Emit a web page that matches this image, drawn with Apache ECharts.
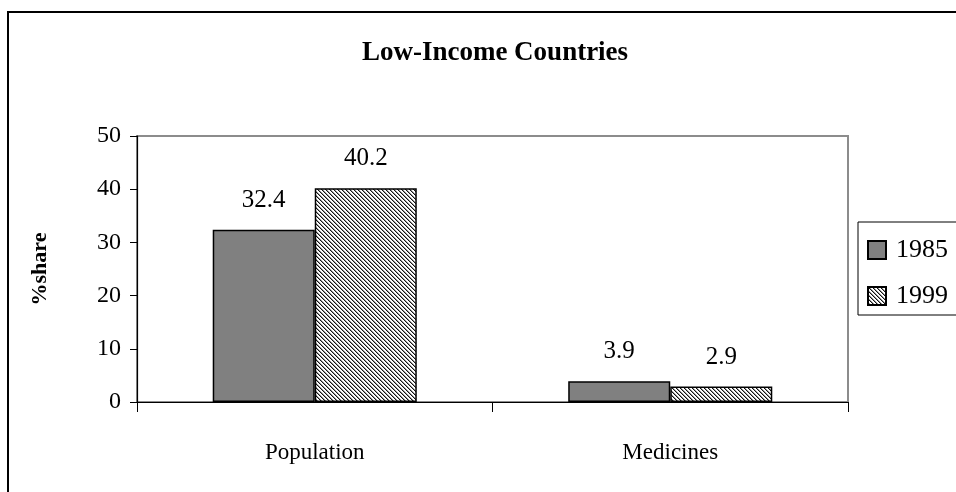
<!DOCTYPE html>
<html>
<head>
<meta charset="utf-8">
<script src="https://cdn.jsdelivr.net/npm/echarts@6/dist/echarts.min.js"></script>
<style>
html,body{margin:0;padding:0;background:#fff;}
#chart{width:956px;height:492px;}
</style>
</head>
<body>
<div id="chart"></div>
<script>
var categories = ['Population', 'Medicines'];
var seriesNames = ['1985', '1999'];
var values1985 = [32.4, 3.9];
var values1999 = [40.2, 2.9];
var titleText = 'Low-Income Countries';
var yAxisName = '%share';

// hatch pattern tile (diagonal "\" lines)
function makeHatch() {
  var size = 8;
  var c = document.createElement('canvas');
  c.width = size; c.height = size;
  var ctx = c.getContext('2d');
  var img = ctx.createImageData(size, size);
  for (var y = 0; y < size; y++) {
    for (var x = 0; x < size; x++) {
      var m = ((x - y) % 4 + 4) % 4;
      var v = (m === 0) ? 20 : (m === 1 ? 150 : 255);
      var i = (y * size + x) * 4;
      img.data[i] = v; img.data[i + 1] = v; img.data[i + 2] = v; img.data[i + 3] = 255;
    }
  }
  ctx.putImageData(img, 0, 0);
  return c;
}
var hatch = makeHatch();

var font = 'Liberation Serif';
var chart = echarts.init(document.getElementById('chart'));
chart.setOption({
  animation: false,
  backgroundColor: '#fff',
  title: {
    text: titleText,
    left: 490, top: 35, textAlign: 'center',
    textStyle: { fontFamily: font, fontSize: 27, fontWeight: 'bold', color: '#000' }
  },
  graphic: [{
    type: 'rect', silent: true, z: -1,
    shape: { x: 8, y: 12, width: 970, height: 500 },
    style: { fill: 'none', stroke: '#000', lineWidth: 2 }
  }],
  legend: {
    orient: 'vertical',
    left: 858, top: 222,
    padding: [15, 30, 6, 9],
    itemWidth: 18, itemHeight: 18, itemGap: 20,
    borderColor: '#000', borderWidth: 1,
    icon: 'rect',
    textStyle: { fontFamily: font, fontSize: 26, color: '#000', lineHeight: 18, padding: [0, 0, 0, 5] },
    data: seriesNames
  },
  grid: {
    left: 137, right: 108, top: 136, bottom: 90,
    show: true, borderColor: '#8c8c8c', borderWidth: 2, backgroundColor: 'transparent'
  },
  xAxis: {
    type: 'category',
    data: categories,
    axisLine: { lineStyle: { color: '#000', width: 1.2 } },
    axisTick: { show: true, interval: 0, length: 10, lineStyle: { color: '#000' } },
    axisLabel: { fontFamily: font, fontSize: 23, color: '#000', margin: 39 },
    splitLine: { show: false }
  },
  yAxis: {
    type: 'value',
    min: 0, max: 50, interval: 10,
    name: yAxisName,
    nameLocation: 'middle', nameRotate: 90, nameGap: 86,
    nameTextStyle: { fontFamily: font, fontSize: 22, fontWeight: 'bold', color: '#000' },
    axisLine: { show: true, lineStyle: { color: '#000', width: 1.2 } },
    axisTick: { show: true, length: 7, lineStyle: { color: '#000' } },
    axisLabel: { fontFamily: font, fontSize: 24, color: '#000', margin: 16 },
    splitLine: { show: false }
  },
  series: [{
    name: seriesNames[0],
    type: 'bar',
    data: values1985,
    barGap: '0%',
    barCategoryGap: '42.6%',
    itemStyle: { color: '#808080', borderColor: '#000', borderWidth: 1.5 },
    label: { show: true, position: 'top', distance: 17, fontFamily: font, fontSize: 25, color: '#000' }
  }, {
    name: seriesNames[1],
    type: 'bar',
    data: values1999,
    barGap: '0%',
    barCategoryGap: '42.6%',
    itemStyle: { color: { image: hatch, repeat: 'repeat' }, borderColor: '#000', borderWidth: 1.5 },
    label: { show: true, position: 'top', distance: 17, fontFamily: font, fontSize: 25, color: '#000' }
  }]
});
</script>
</body>
</html>
